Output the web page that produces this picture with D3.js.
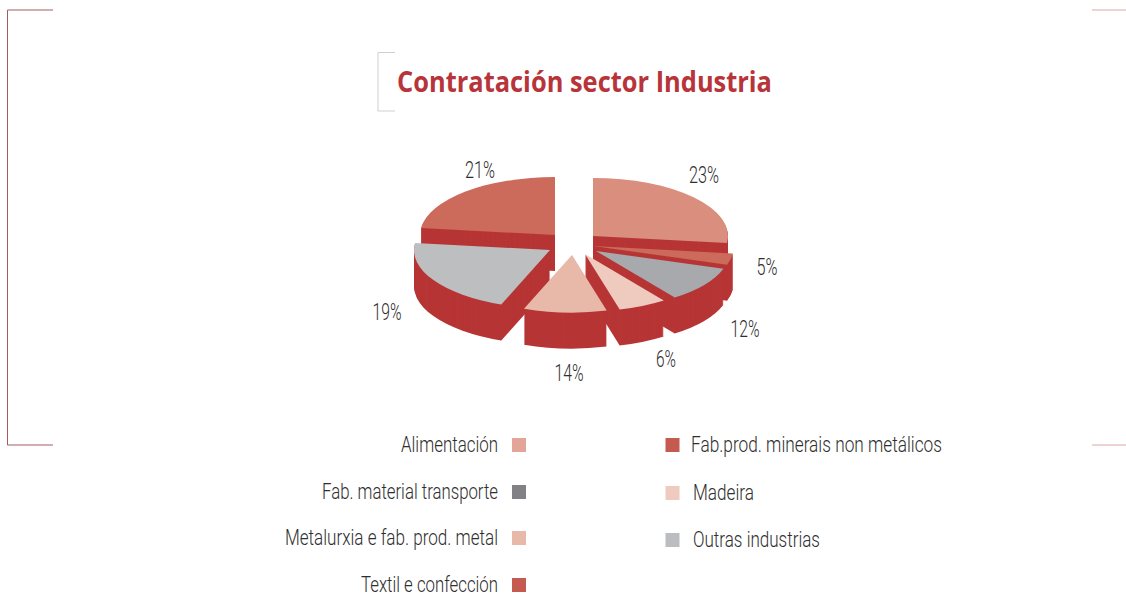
<!DOCTYPE html>
<html><head><meta charset="utf-8">
<script src="https://cdn.jsdelivr.net/npm/d3@7/dist/d3.min.js"></script>
<style>html,body{margin:0;padding:0;background:#fff;overflow:hidden}svg{display:block}</style>
</head><body><svg id="c" width="1126" height="594"></svg>
<script>
const sectors=["Alimentación","Fab.prod. minerais non metálicos","Fab. material transporte","Madeira","Metalurxia e fab. prod. metal","Outras industrias","Textil e confección"];
const shares=[23,5,12,6,14,19,21];
const topColors=["#d98e7e","#cc6a5c","#a7a9ac","#efcabf","#e8b8a8","#bcbec0","#cc6a5c"];
const legendColors=["#e2a597","#c55a50","#828286","#eecabf","#e8b8a9","#bcbdc0","#c55a50"];
// drawing geometry of the exploded, foreshortened pie
const warpAngles=[0,97,108,144,165,201,277,360];
const apexX=[593,593,596,585,572,550,555];
const apexY=[236,246,251,254,255,250,235];
const radii=[135,141,134,134,134,136,135];
const labelX=[704,767,745,666,569,387,480];
const labelY=[174,266,328,358,372,311,169];
const labelW=[30,21,29,20,29,29,30];
const drawOrder=[6,0,1,2,5,3,4];
const legendRows=[
 {i:0,tx:498,a:"end",w:97,sx:512,y:445},{i:2,tx:498,a:"end",w:176,sx:512,y:492},
 {i:4,tx:498,a:"end",w:213,sx:512,y:538},{i:6,tx:498,a:"end",w:137,sx:512,y:585},
 {i:1,tx:691,a:"start",w:251,sx:665.5,y:445},{i:3,tx:693,a:"start",w:61,sx:665.5,y:493},{i:5,tx:693,a:"start",w:127,sx:665.5,y:540}];
const sideColor="#b73535",depth=36,squash=58/135;
const narrow="Roboto,'Liberation Sans',sans-serif";

const svg=d3.select("#c");
const frame=[[53,10,7.5,10,7.5,445,53,445,"#a85a5f"],[1092,10,1126,10,1126,10,1126,10,"#dba8a8"],[1092,445,1126,445,1126,445,1126,445,"#dba8a8"],[395,52.5,378,52.5,378,111,395,111,"#cfcfcf"]];
svg.selectAll("path.frame").data(frame).join("path").attr("class","frame").attr("fill","none")
 .attr("stroke",d=>d[8]).attr("stroke-width",1)
 .attr("d",d=>`M${d[0]},${d[1]}L${d[2]},${d[3]}L${d[4]},${d[5]}L${d[6]},${d[7]}`);

svg.append("text").text("Contratación sector Industria").attr("x",397).attr("y",92)
 .attr("font-family","'Open Sans','Noto Sans',sans-serif").attr("font-weight",700).attr("font-size",28)
 .attr("fill","#b7343a").attr("textLength",375).attr("lengthAdjust","spacingAndGlyphs");

const total=d3.sum(shares);
const warp=d3.scaleLinear().domain(d3.cumsum([0].concat(shares)).map(v=>v/total*2*Math.PI))
 .range(warpAngles.map(a=>a*Math.PI/180));
const arcs=d3.pie().sort(null)(shares);
const arc=d3.arc().innerRadius(0);
const layers=d3.range(depth,0,-1);
drawOrder.forEach(i=>{
 const a=arcs[i];
 const path=arc({outerRadius:radii[i],startAngle:warp(a.startAngle),endAngle:warp(a.endAngle)});
 const g=svg.append("g").attr("class","slice");
 g.selectAll("path.side").data(layers).join("path").attr("class","side").attr("d",path)
  .attr("fill",sideColor)
  .attr("transform",k=>`translate(${apexX[i]},${apexY[i]+k}) scale(1,${squash})`);
 g.append("path").attr("d",path).attr("fill",topColors[i])
  .attr("transform",`translate(${apexX[i]},${apexY[i]}) scale(1,${squash})`);
});

svg.selectAll("text.pct").data(shares).join("text").attr("class","pct").text(d=>d+"%")
 .attr("x",(d,i)=>labelX[i]).attr("y",(d,i)=>labelY[i]+9).attr("text-anchor","middle")
 .attr("font-family",narrow).attr("font-weight",300).attr("font-size",24).attr("fill","#2e2e2e")
 .attr("textLength",(d,i)=>labelW[i]).attr("lengthAdjust","spacingAndGlyphs");

svg.selectAll("text.leg").data(legendRows).join("text").attr("class","leg").text(d=>sectors[d.i])
 .attr("x",d=>d.tx).attr("y",d=>d.y+7).attr("text-anchor",d=>d.a)
 .attr("font-family",narrow).attr("font-weight",300).attr("font-size",22).attr("fill","#2e2e2e")
 .attr("textLength",d=>d.w).attr("lengthAdjust","spacingAndGlyphs");
svg.selectAll("rect.sw").data(legendRows).join("rect").attr("class","sw")
 .attr("x",d=>d.sx).attr("y",d=>d.y-7).attr("width",14).attr("height",14)
 .attr("fill",d=>legendColors[d.i]);
</script></body></html>
